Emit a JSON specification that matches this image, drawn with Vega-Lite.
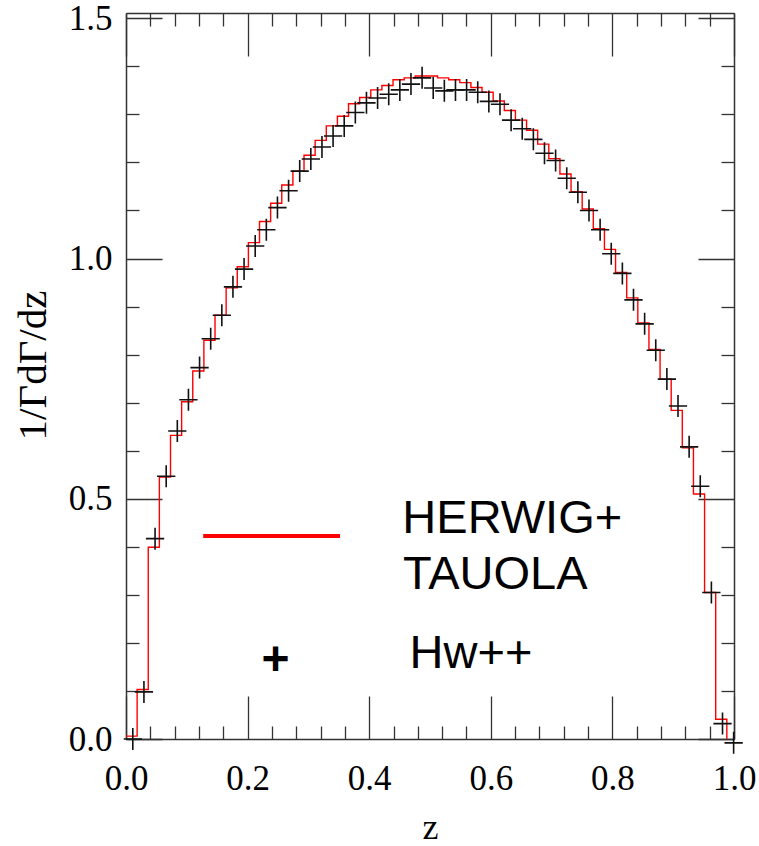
{
  "$schema": "https://vega.github.io/schema/vega-lite/v6.json",
  "width": 608,
  "height": 726,
  "autosize": {"type": "none"},
  "padding": {"left": 126, "top": 13, "right": 25, "bottom": 107},
  "background": "white",
  "config": {"view": {"stroke": null}, "axis": {"grid": false}},
  "datasets": {
    "herwig": [
      {"z": 0, "v": 0.006}, {"z": 0.0183, "v": 0.103}, {"z": 0.0366, "v": 0.399}, {"z": 0.0549, "v": 0.545},
      {"z": 0.0732, "v": 0.632}, {"z": 0.0915, "v": 0.702}, {"z": 0.1098, "v": 0.766}, {"z": 0.1281, "v": 0.830},
      {"z": 0.1464, "v": 0.882}, {"z": 0.1647, "v": 0.939}, {"z": 0.183, "v": 0.983}, {"z": 0.2013, "v": 1.033},
      {"z": 0.2196, "v": 1.077}, {"z": 0.2379, "v": 1.115}, {"z": 0.2562, "v": 1.153}, {"z": 0.2745, "v": 1.182},
      {"z": 0.2928, "v": 1.215}, {"z": 0.3111, "v": 1.246}, {"z": 0.3294, "v": 1.276}, {"z": 0.3477, "v": 1.296},
      {"z": 0.366, "v": 1.322}, {"z": 0.3843, "v": 1.335}, {"z": 0.4026, "v": 1.351}, {"z": 0.4209, "v": 1.360},
      {"z": 0.4392, "v": 1.372}, {"z": 0.4575, "v": 1.376}, {"z": 0.4758, "v": 1.380}, {"z": 0.4941, "v": 1.380},
      {"z": 0.5124, "v": 1.376}, {"z": 0.5307, "v": 1.372}, {"z": 0.549, "v": 1.366}, {"z": 0.5673, "v": 1.356},
      {"z": 0.5856, "v": 1.346}, {"z": 0.6039, "v": 1.328}, {"z": 0.6222, "v": 1.308}, {"z": 0.6405, "v": 1.288},
      {"z": 0.6588, "v": 1.267}, {"z": 0.6771, "v": 1.238}, {"z": 0.6954, "v": 1.208}, {"z": 0.7137, "v": 1.176},
      {"z": 0.732, "v": 1.139}, {"z": 0.7503, "v": 1.103}, {"z": 0.7686, "v": 1.062}, {"z": 0.7869, "v": 1.019},
      {"z": 0.8052, "v": 0.971}, {"z": 0.8235, "v": 0.918}, {"z": 0.8418, "v": 0.866}, {"z": 0.8601, "v": 0.811},
      {"z": 0.8784, "v": 0.749}, {"z": 0.8967, "v": 0.684}, {"z": 0.915, "v": 0.606}, {"z": 0.9333, "v": 0.510},
      {"z": 0.9516, "v": 0.305}, {"z": 0.9699, "v": 0.041}, {"z": 0.9882, "v": 0}
    ],
    "hwpp": [
      {"z": 0.0112, "v": 0.000}, {"z": 0.0295, "v": 0.098}, {"z": 0.0478, "v": 0.417}, {"z": 0.0661, "v": 0.547},
      {"z": 0.0844, "v": 0.641}, {"z": 0.1027, "v": 0.706}, {"z": 0.121, "v": 0.773}, {"z": 0.1393, "v": 0.833},
      {"z": 0.1576, "v": 0.882}, {"z": 0.1759, "v": 0.941}, {"z": 0.1942, "v": 0.978}, {"z": 0.2125, "v": 1.026},
      {"z": 0.2308, "v": 1.060}, {"z": 0.2491, "v": 1.106}, {"z": 0.2674, "v": 1.141}, {"z": 0.2857, "v": 1.182},
      {"z": 0.304, "v": 1.207}, {"z": 0.3223, "v": 1.232}, {"z": 0.3406, "v": 1.255}, {"z": 0.3589, "v": 1.276},
      {"z": 0.3772, "v": 1.304}, {"z": 0.3955, "v": 1.324}, {"z": 0.4138, "v": 1.334}, {"z": 0.4321, "v": 1.342},
      {"z": 0.4504, "v": 1.351}, {"z": 0.4687, "v": 1.363}, {"z": 0.487, "v": 1.376}, {"z": 0.5053, "v": 1.355},
      {"z": 0.5236, "v": 1.349}, {"z": 0.5419, "v": 1.351}, {"z": 0.5602, "v": 1.351}, {"z": 0.5785, "v": 1.346},
      {"z": 0.5968, "v": 1.327}, {"z": 0.6151, "v": 1.321}, {"z": 0.6334, "v": 1.288}, {"z": 0.6517, "v": 1.270},
      {"z": 0.67, "v": 1.248}, {"z": 0.6883, "v": 1.219}, {"z": 0.7066, "v": 1.204}, {"z": 0.7249, "v": 1.167},
      {"z": 0.7432, "v": 1.138}, {"z": 0.7615, "v": 1.100}, {"z": 0.7798, "v": 1.060}, {"z": 0.7981, "v": 1.010},
      {"z": 0.8164, "v": 0.969}, {"z": 0.8347, "v": 0.914}, {"z": 0.853, "v": 0.864}, {"z": 0.8713, "v": 0.809},
      {"z": 0.8896, "v": 0.749}, {"z": 0.9079, "v": 0.693}, {"z": 0.9262, "v": 0.608}, {"z": 0.9445, "v": 0.526},
      {"z": 0.9628, "v": 0.305}, {"z": 0.9811, "v": 0.032}, {"z": 0.9994, "v": -0.008}
    ],
    "legendline": [{"z1": 0.127, "z2": 0.352, "v": 0.4223}],
    "legendtext": [
      {"z": 0.4545, "v": 0.4292, "t": "HERWIG+"},
      {"z": 0.4556, "v": 0.3114, "t": "TAUOLA"},
      {"z": 0.4664, "v": 0.1471, "t": "Hw++"}
    ],
    "legendsym": [{"z": 0.2459, "v": 0.134, "t": "+"}]
  },
  "resolve": {"axis": {"x": "independent", "y": "independent"}},
  "layer": [
    {
      "data": {"name": "herwig"},
      "mark": {"type": "line", "interpolate": "step-after", "color": "#ff0000", "strokeWidth": 1.4},
      "encoding": {
        "x": {
          "field": "z", "type": "quantitative",
          "scale": {"domain": [0, 1], "nice": false, "zero": false},
          "axis": {
            "orient": "bottom",
            "values": [0, 0.04, 0.08, 0.12, 0.16, 0.2, 0.24, 0.28, 0.32, 0.36, 0.4, 0.44, 0.48, 0.52, 0.56, 0.6, 0.64, 0.68, 0.72, 0.76, 0.8, 0.84, 0.88, 0.92, 0.96, 1],
            "tickSize": {"condition": {"test": "abs(datum.value*5-round(datum.value*5))<0.001", "value": -43}, "value": -13},
            "labelExpr": "abs(datum.value*5-round(datum.value*5))<0.001 ? format(datum.value,'.1f') : ''",
            "labelPadding": 65,
            "labelFont": "Liberation Serif", "labelFontSize": 35, "labelColor": "#000",
            "labelFlush": false, "labelOverlap": false, "labelBound": false,
            "domainColor": "#333", "domainWidth": 1.5, "tickColor": "#333", "tickWidth": 1.3,
            "title": "z", "titleFont": "Liberation Serif", "titleFontSize": 36, "titleFontWeight": "normal",
            "titleColor": "#000", "titleY": 99, "titleBaseline": "alphabetic"
          }
        },
        "y": {
          "field": "v", "type": "quantitative",
          "scale": {"domain": [0, 1.511], "nice": false, "zero": false},
          "axis": {
            "orient": "left",
            "values": [0, 0.1, 0.2, 0.3, 0.4, 0.5, 0.6, 0.7, 0.8, 0.9, 1.0, 1.1, 1.2, 1.3, 1.4, 1.5],
            "tickSize": {"condition": {"test": "abs(datum.value*2-round(datum.value*2))<0.001", "value": -36}, "value": -13},
            "labelExpr": "abs(datum.value*2-round(datum.value*2))<0.001 ? format(datum.value,'.1f') : ''",
            "labelPadding": 50,
            "labelFont": "Liberation Serif", "labelFontSize": 35, "labelColor": "#000",
            "labelFlush": false, "labelOverlap": false, "labelBound": false, "labelBaseline": "middle",
            "domainColor": "#333", "domainWidth": 1.5, "tickColor": "#333", "tickWidth": 1.3,
            "title": "1/ΓdΓ/dz", "titleFont": "Liberation Serif", "titleFontSize": 41, "titleFontWeight": "normal",
            "titleColor": "#000", "titleX": -93, "titleY": 352, "titleBaseline": "middle", "titleAngle": -90
          }
        }
      }
    },
    {
      "data": {"name": "hwpp"},
      "mark": {"type": "point", "shape": "M-0.83,0H0.83M0,-1V1", "size": 484, "filled": false, "color": "#111", "strokeWidth": 1.6, "opacity": 1},
      "encoding": {
        "x": {
          "field": "z", "type": "quantitative",
          "axis": {
            "orient": "top",
            "values": [0, 0.04, 0.08, 0.12, 0.16, 0.2, 0.24, 0.28, 0.32, 0.36, 0.4, 0.44, 0.48, 0.52, 0.56, 0.6, 0.64, 0.68, 0.72, 0.76, 0.8, 0.84, 0.88, 0.92, 0.96, 1],
            "tickSize": {"condition": {"test": "abs(datum.value*5-round(datum.value*5))<0.001", "value": -43}, "value": -13},
            "labels": false, "title": null,
            "domainColor": "#333", "domainWidth": 1.5, "tickColor": "#333", "tickWidth": 1.3
          }
        },
        "y": {
          "field": "v", "type": "quantitative",
          "axis": {
            "orient": "right",
            "values": [0, 0.1, 0.2, 0.3, 0.4, 0.5, 0.6, 0.7, 0.8, 0.9, 1.0, 1.1, 1.2, 1.3, 1.4, 1.5],
            "tickSize": {"condition": {"test": "abs(datum.value*2-round(datum.value*2))<0.001", "value": -36}, "value": -13},
            "labels": false, "title": null,
            "domainColor": "#333", "domainWidth": 1.5, "tickColor": "#333", "tickWidth": 1.3
          }
        }
      }
    },
    {
      "data": {"name": "legendline"},
      "mark": {"type": "rule", "color": "#ff0000", "strokeWidth": 4},
      "encoding": {
        "x": {"field": "z1", "type": "quantitative", "axis": null},
        "x2": {"field": "z2"},
        "y": {"field": "v", "type": "quantitative", "axis": null}
      }
    },
    {
      "data": {"name": "legendtext"},
      "mark": {"type": "text", "align": "left", "baseline": "alphabetic", "font": "Liberation Sans", "fontSize": 47, "color": "#000"},
      "encoding": {
        "x": {"field": "z", "type": "quantitative", "axis": null},
        "y": {"field": "v", "type": "quantitative", "axis": null},
        "text": {"field": "t"}
      }
    },
    {
      "data": {"name": "legendsym"},
      "mark": {"type": "text", "align": "center", "baseline": "alphabetic", "font": "Liberation Sans", "fontSize": 48, "fontWeight": "bold", "color": "#000"},
      "encoding": {
        "x": {"field": "z", "type": "quantitative", "axis": null},
        "y": {"field": "v", "type": "quantitative", "axis": null},
        "text": {"field": "t"}
      }
    }
  ]
}
